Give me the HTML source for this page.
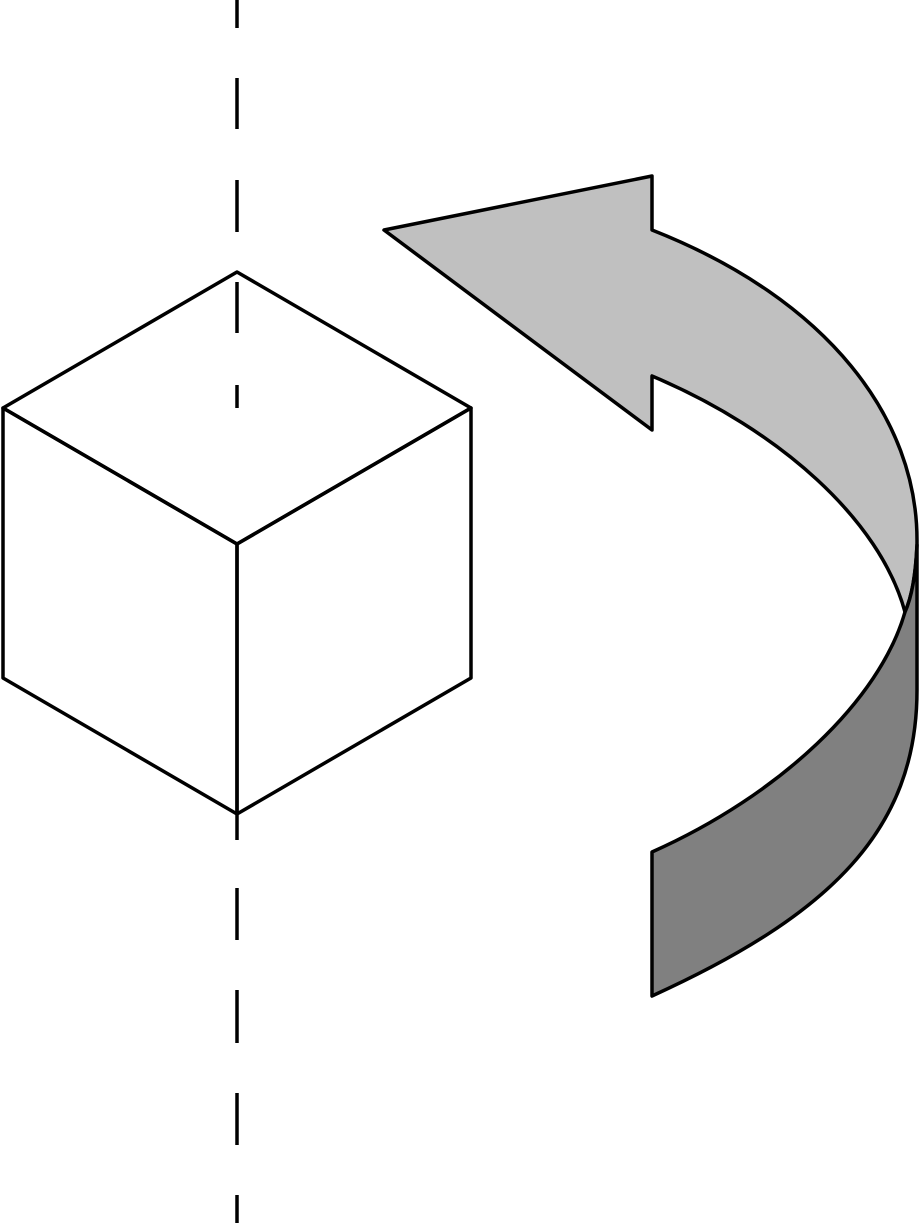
<!DOCTYPE html>
<html>
<head>
<meta charset="utf-8">
<style>
  html, body { margin: 0; padding: 0; background: #fff; }
  svg { display: block; }
</style>
</head>
<body>
<svg width="920" height="1223" viewBox="0 0 920 1223" xmlns="http://www.w3.org/2000/svg">
  <g stroke="#000" stroke-width="3.5" fill="none">
    <line x1="237" y1="0" x2="237" y2="28"/>
    <line x1="237" y1="78" x2="237" y2="129"/>
    <line x1="237" y1="180" x2="237" y2="232"/>
    <line x1="237" y1="282" x2="237" y2="333"/>
    <line x1="237" y1="385" x2="237" y2="408"/>
    <line x1="237" y1="815" x2="237" y2="840"/>
    <line x1="237" y1="888" x2="237" y2="940"/>
    <line x1="237" y1="990" x2="237" y2="1043"/>
    <line x1="237" y1="1093" x2="237" y2="1145"/>
    <line x1="237" y1="1195" x2="237" y2="1223"/>
  </g>
  <g stroke="#000" stroke-width="3.5" fill="none" stroke-linejoin="round">
    <polygon points="237,272 471,408 237,544 3,408"/>
    <polygon points="3,408 237,544 237,814 3,678"/>
    <polygon points="237,544 471,408 471,678 237,814"/>
  </g>
  <g stroke="#000" stroke-width="3.5" stroke-linejoin="round">
    <path fill="#c0c0c0"
      d="M384,230 L652,176 L652,230 C830,300 917,420 917,540 L917,545 Q915,590 905,612 C880,520 780,430 652,376 L652,430 Z"/>
    <path fill="#808080"
      d="M917,545 L917,690 C917,830 830,915 652,996 L652,852 C780,795 880,700 905,612 Q915,590 917,545 Z"/>
  </g>
</svg>
</body>
</html>
